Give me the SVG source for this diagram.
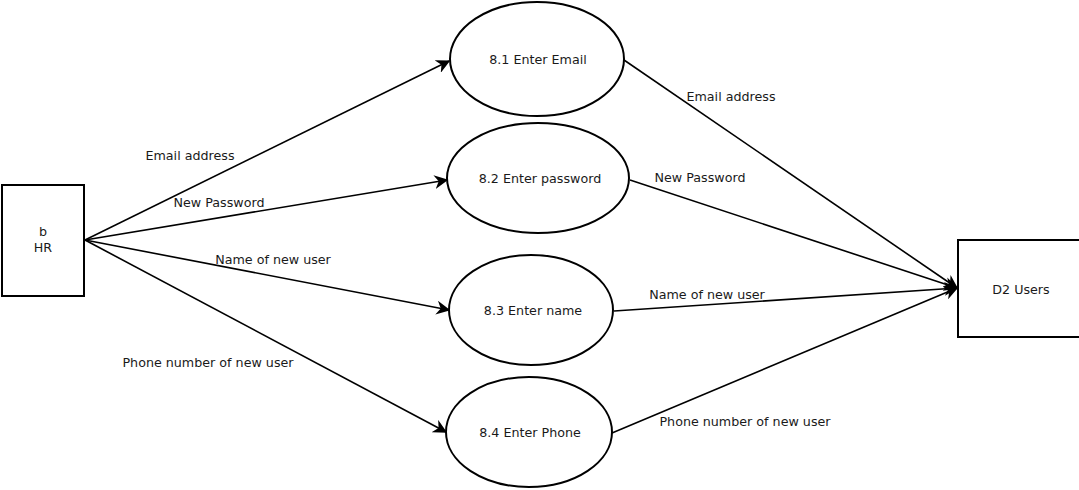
<svg xmlns="http://www.w3.org/2000/svg" width="1079" height="490" viewBox="0 0 1079 490">
<style>
text{font-family:"DejaVu Sans",sans-serif;font-size:12.7px;fill:#1a1a1a}
.n{fill:#fff;stroke:#000;stroke-width:2}
.c{fill:none;stroke:#000;stroke-width:1.6}
.m{text-anchor:middle}
</style>
<defs>
<marker id="a" viewBox="0 0 10 10" refX="9" refY="5" markerWidth="14" markerHeight="14" markerUnits="userSpaceOnUse" orient="auto">
<path d="M0,0 L10,5 L0,10 L3,5 z" fill="#000"/>
</marker>
</defs>
<g id="connectors">
<line class="c" x1="85" y1="240" x2="449" y2="61" marker-end="url(#a)"/>
<line class="c" x1="85" y1="240" x2="447" y2="180" marker-end="url(#a)"/>
<line class="c" x1="85" y1="240" x2="449" y2="310" marker-end="url(#a)"/>
<line class="c" x1="85" y1="240" x2="446" y2="432" marker-end="url(#a)"/>
<line class="c" x1="624" y1="60" x2="957" y2="288" marker-end="url(#a)"/>
<line class="c" x1="630" y1="180" x2="957" y2="288" marker-end="url(#a)"/>
<line class="c" x1="614" y1="311" x2="957" y2="288" marker-end="url(#a)"/>
<line class="c" x1="612" y1="433" x2="957" y2="288" marker-end="url(#a)"/>
<text x="190" y="160" class="m">Email address</text>
<text x="219" y="207" class="m">New Password</text>
<text x="273" y="264" class="m">Name of new user</text>
<text x="208" y="367" class="m">Phone number of new user</text>
<text x="731" y="101" class="m">Email address</text>
<text x="700" y="182" class="m">New Password</text>
<text x="707" y="299" class="m">Name of new user</text>
<text x="745" y="426" class="m">Phone number of new user</text>
</g>
<g id="hr">
<rect class="n" x="2" y="185" width="82" height="111"/>
<text x="43" y="236" class="m">b</text>
<text x="43" y="252" class="m">HR</text>
</g>
<g id="d2">
<path class="n" d="M1085,240 L958,240 L958,337 L1085,337"/>
<text x="1021" y="294" class="m">D2 Users</text>
</g>
<g id="p81">
<ellipse class="n" cx="537" cy="59" rx="87" ry="57"/>
<text x="538" y="64" class="m">8.1 Enter Email</text>
</g>
<g id="p82">
<ellipse class="n" cx="538" cy="178" rx="91" ry="55"/>
<text x="540" y="183" class="m">8.2 Enter password</text>
</g>
<g id="p83">
<ellipse class="n" cx="531" cy="310" rx="82" ry="55"/>
<text x="533" y="315" class="m">8.3 Enter name</text>
</g>
<g id="p84">
<ellipse class="n" cx="529" cy="432" rx="83" ry="55"/>
<text x="530" y="437" class="m">8.4 Enter Phone</text>
</g>
</svg>
